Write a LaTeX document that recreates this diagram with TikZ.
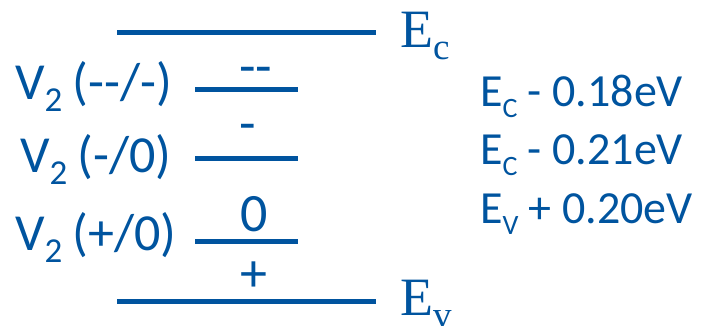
\documentclass[tikz,border=0pt]{standalone}
\usepackage{fontspec}
\setmainfont{Carlito}
\newfontfamily\tms{Liberation Serif}
\definecolor{db}{RGB}{0,84,159}
\newcommand\mysub[3]{\raisebox{-#2pt}{\fontsize{#1}{#1}\selectfont #3}}
\begin{document}
\begin{tikzpicture}[x=1pt,y=-1pt,
  lvl/.style={draw=db,line width=5pt},
  lbl/.style={text=db,inner sep=0pt,anchor=base west},
  chg/.style={text=db,inner sep=0pt,anchor=base,font=\fontsize{54}{60}\selectfont},
  big/.style={font=\fontsize{52}{60}\selectfont},
  mid/.style={font=\fontsize{46}{50}\selectfont}]
\useasboundingbox (0,0) rectangle (702,326);
% band edges
\coordinate (ec1) at (117,33); \coordinate (ec2) at (376,33);
\coordinate (ev1) at (117,301); \coordinate (ev2) at (376,301);
\draw[lvl] (ec1) -- (ec2);
\draw[lvl] (ev1) -- (ev2);
% defect levels
\coordinate (a1) at (195,90);  \coordinate (a2) at (298,90);
\coordinate (b1) at (195,159); \coordinate (b2) at (298,159);
\coordinate (c1) at (195,241); \coordinate (c2) at (298,241);
\draw[lvl] (a1) -- (a2);
\draw[lvl] (b1) -- (b2);
\draw[lvl] (c1) -- (c2);
% band labels
\node[lbl,font=\tms\fontsize{54}{60}\selectfont] (Ec) at (400,48) {E\mysub{37}{12}{c}};
\node[lbl,font=\tms\fontsize{54}{60}\selectfont] (Ev) at (400,315) {E\mysub{37}{12}{v}};
% left labels
\node[lbl,big] (la) at (15,100) {V\mysub{35}{12}{2}\hspace{10pt}(-{}-/-)};
\node[lbl,big] (lb) at (20,173) {V\mysub{35}{12}{2}\hspace{10pt}(-/0)};
\node[lbl,big] (lc) at (15,251) {V\mysub{35}{12}{2}\hspace{10pt}(+/0)};
% charge states
\node[chg] (q1) at (256,85) {-{}-};
\node[chg] (q2) at (248,142) {-};
\node[chg] (q3) at (254,232) {0};
\node[chg] (q4) at (254,291) {+};
% energies
\node[lbl,mid] (r1) at (480,107) {E\mysub{28}{11}{C} - 0.18eV};
\node[lbl,mid] (r2) at (480,165) {E\mysub{28}{11}{C} - 0.21eV};
\node[lbl,mid] (r3) at (480,223) {E\mysub{28}{11}{V} + 0.20eV};
\end{tikzpicture}
\end{document}
